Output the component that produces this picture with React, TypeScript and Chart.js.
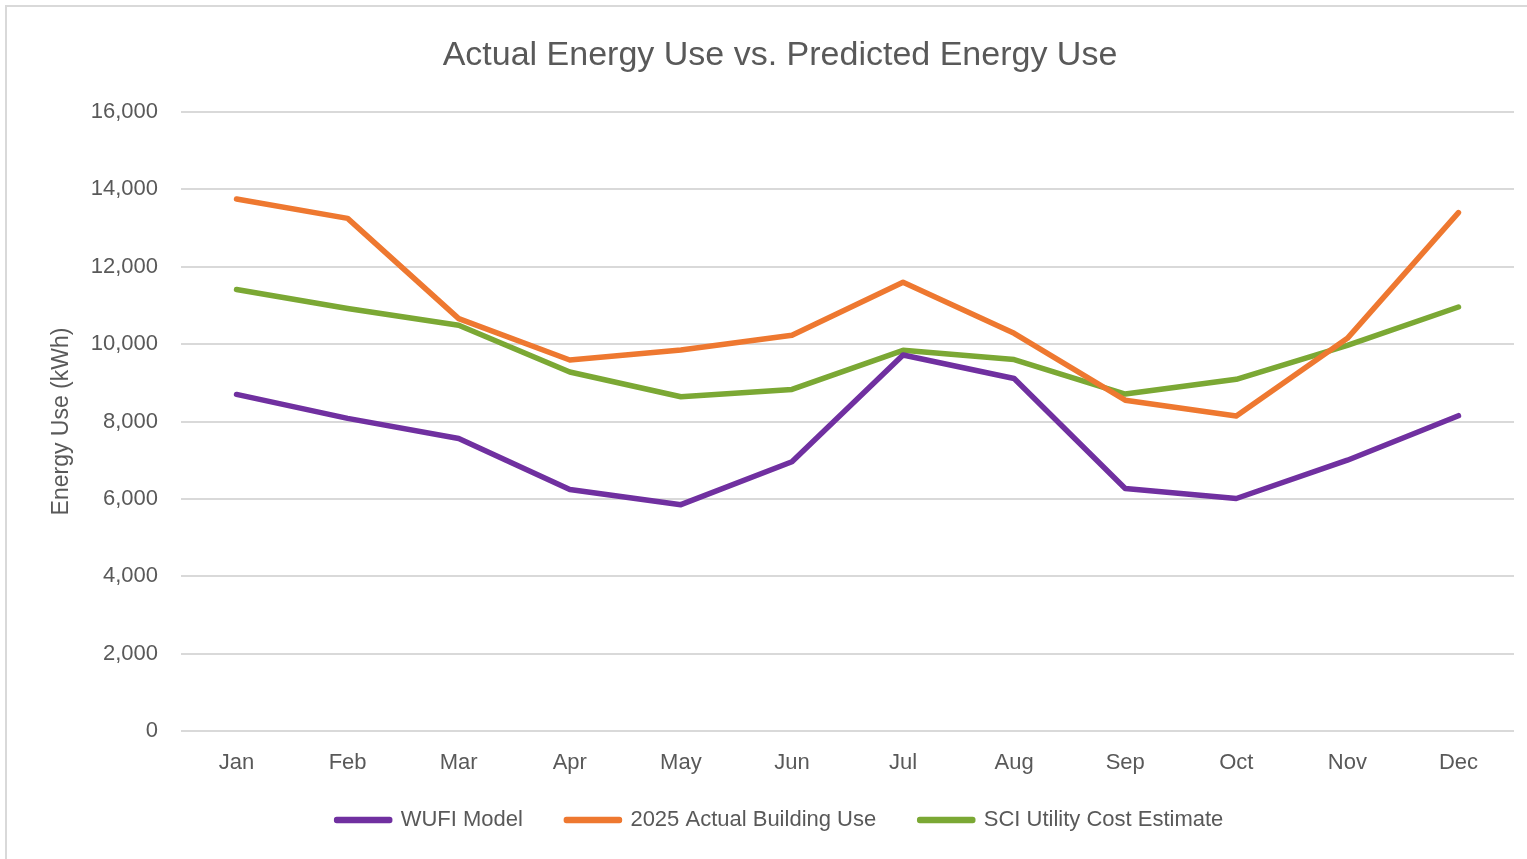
import { useEffect, useRef } from 'react';
import { Chart, registerables } from 'chart.js';

Chart.register(...registerables);

const months = ['Jan', 'Feb', 'Mar', 'Apr', 'May', 'Jun', 'Jul', 'Aug', 'Sep', 'Oct', 'Nov', 'Dec'];
const wufiModel = [8700, 8080, 7560, 6240, 5850, 6960, 9720, 9110, 6270, 6010, 7000, 8150];
const actualUse2025 = [13750, 13250, 10660, 9590, 9850, 10230, 11600, 10280, 8550, 8140, 10150, 13400];
const sciEstimate = [11410, 10920, 10490, 9280, 8640, 8830, 9840, 9600, 8710, 9090, 9970, 10960];
const yMin = 0;
const yMax = 16000;
const yStep = 2000;

const FONT = "'Liberation Sans', Arial, sans-serif";
const TEXT = '#595959';

export default function App() {
  const ref = useRef<HTMLCanvasElement | null>(null);

  useEffect(() => {
    if (!ref.current) return;
    const mk = (label: string, data: number[], color: string) => ({
      label,
      data,
      borderColor: color,
      backgroundColor: color,
      borderWidth: 5.5,
      borderCapStyle: 'round' as const,
      borderJoinStyle: 'round' as const,
      pointRadius: 0,
      pointHoverRadius: 0,
      tension: 0,
      fill: false,
    });
    const chart = new Chart(ref.current, {
      type: 'line',
      data: {
        labels: months,
        datasets: [
          mk('WUFI Model', wufiModel, '#7030A0'),
          mk('2025 Actual Building Use', actualUse2025, '#EE7830'),
          mk('SCI Utility Cost Estimate', sciEstimate, '#7BA834'),
        ],
      },
      options: {
        animation: false,
        responsive: false,
        events: [],
        layout: { padding: { top: 0, left: 46, right: 13, bottom: 18 } },
        plugins: {
          title: {
            display: true,
            text: 'Actual Energy Use vs. Predicted Energy Use',
            color: TEXT,
            font: { family: FONT, size: 34, weight: 'normal' },
            padding: { top: 35.6, bottom: 35.6 },
          },
          legend: {
            position: 'bottom',
            labels: {
              boxWidth: 53,
              boxHeight: 1,
              padding: 43.5,
              color: TEXT,
              font: { family: FONT, size: 22 },
            },
          },
          tooltip: { enabled: false },
        },
        scales: {
          x: {
            offset: true,
            grid: { display: false },
            border: { display: false },
            ticks: { mirror: true, padding: -45.4, color: TEXT, font: { family: FONT, size: 22 } },
            afterFit: (s: any) => {
              s.height = 34.5;
            },
          },
          y: {
            min: yMin,
            max: yMax,
            ticks: {
              stepSize: yStep,
              padding: 23,
              color: TEXT,
              font: { family: FONT, size: 22 },
              callback: (v: any) => Number(v).toLocaleString('en-US'),
            },
            grid: { color: '#d9d9d9', lineWidth: 2, drawTicks: false },
            border: { display: false },
            title: {
              display: true,
              text: 'Energy Use (kWh)',
              color: TEXT,
              font: { family: FONT, size: 23 },
              padding: { top: 1.7, bottom: 0 },
            },
            afterFit: (s: any) => {
              s.width = 135;
            },
          },
        },
      },
    });
    return () => chart.destroy();
  }, []);

  return (
    <div style={{ position: 'fixed', left: 0, top: 0, width: 1527, height: 859, background: '#fff', overflow: 'hidden' }}>
      <div
        style={{
          position: 'absolute',
          left: 5,
          top: 5,
          right: -10,
          bottom: -10,
          borderTop: '2px solid #d9d9d9',
          borderLeft: '2px solid #d9d9d9',
        }}
      />
      <canvas ref={ref} width={1527} height={859} style={{ position: 'absolute', left: 0, top: 0, width: 1527, height: 859 }} />
    </div>
  );
}
